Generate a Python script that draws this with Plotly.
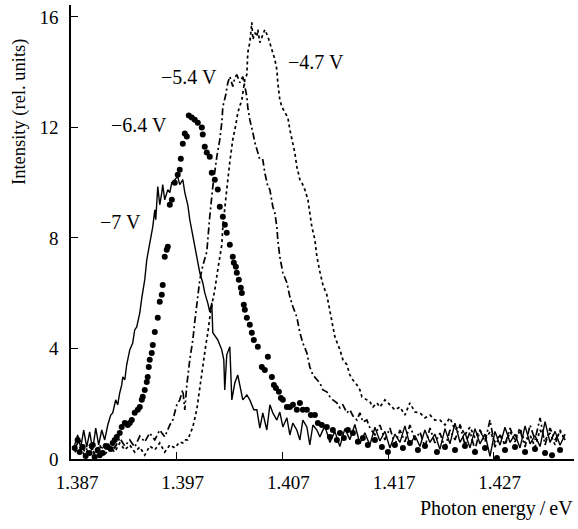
import plotly.graph_objects as go

# ---- data (photon energy in eV, intensity in rel. units) ----
e_7v = [1.38735, 1.38763, 1.38792, 1.3882, 1.38849, 1.38877, 1.38905, 1.38934, 1.38962, 1.38991,
        1.39019, 1.39048, 1.39076, 1.39095, 1.39123, 1.39142, 1.39161, 1.3918, 1.3919, 1.39209,
        1.39227, 1.39237, 1.39256, 1.39284, 1.39303, 1.39322, 1.39351, 1.3937, 1.39398, 1.39417,
        1.39436, 1.39445, 1.39464, 1.39474, 1.39493, 1.39502, 1.39521, 1.3954, 1.39559, 1.39568,
        1.39587, 1.39616, 1.39635, 1.39654, 1.39682, 1.3971, 1.39729, 1.39758, 1.39777, 1.39805,
        1.39824, 1.39852, 1.39871, 1.399, 1.39919, 1.39947, 1.39966, 1.39994, 1.40013, 1.40032,
        1.40042, 1.40089, 1.40127, 1.40146, 1.40155, 1.40174, 1.40203, 1.40222, 1.4025, 1.40278,
        1.40326, 1.40364, 1.40392, 1.4043, 1.40459, 1.40487, 1.40515, 1.40553, 1.40582, 1.4061,
        1.40648, 1.40676, 1.40705, 1.40743, 1.40771, 1.40799, 1.40837, 1.40866, 1.40894, 1.40932,
        1.4096, 1.40989, 1.41027, 1.41055, 1.41102, 1.4115, 1.41197, 1.41244, 1.41292, 1.41339,
        1.41386, 1.41434, 1.41481, 1.41528, 1.41576, 1.41623, 1.41671, 1.41718, 1.41765, 1.41813,
        1.4186, 1.41907, 1.41955, 1.42002, 1.42049, 1.42097, 1.42144, 1.42191, 1.42239, 1.42286,
        1.42334, 1.42381, 1.42428, 1.42476, 1.42523, 1.4257, 1.42618, 1.42665, 1.42712, 1.4276,
        1.42807, 1.42855, 1.42902, 1.42949, 1.42997, 1.43044, 1.43091, 1.43139, 1.43186, 1.43233,
        1.43281, 1.43328, 1.43376]
i_7v = [0.51, 0.87, 0.40, 1.05, 0.43, 0.98, 0.33, 1.12, 0.51, 1.05,
        0.69, 1.23, 1.59, 1.67, 2.14, 1.96, 2.39, 2.68, 2.97, 2.86,
        3.41, 3.59, 3.95, 4.20, 4.67, 4.78, 5.29, 5.83, 6.49, 7.21,
        7.57, 7.83, 8.12, 8.41, 9.02, 8.66, 9.86, 9.20, 9.64, 9.93,
        9.38, 9.75, 9.64, 10.00, 10.11, 10.22, 9.93, 10.11, 9.64, 9.20,
        8.66, 8.12, 7.68, 7.14, 6.74, 6.38, 6.01, 5.65, 5.33, 5.65,
        4.57, 4.31, 3.95, 3.59, 2.50, 3.77, 4.06, 2.14, 2.75, 3.04,
        2.14, 2.32, 2.14, 1.78, 1.78, 1.12, 1.67, 1.05, 1.96, 1.67,
        1.41, 1.70, 1.16, 1.49, 0.87, 1.30, 1.05, 0.69, 1.41, 1.16,
        0.51, 1.23, 1.05, 0.80, 1.20, 0.60, 1.00, 0.45, 1.10, 0.70,
        1.25, 0.55, 0.95, 0.50, 1.15, 0.65, 1.00, 0.40, 0.90, 0.60,
        1.20, 0.50, 0.85, 0.45, 1.05, 0.60, 0.90, 0.35, 1.10, 0.55,
        1.30, 0.60, 0.95, 0.40, 1.10, 0.55, 0.90, 0.10, 1.00, 0.50,
        1.15, 0.60, 0.90, 0.40, 1.20, 0.55, 0.85, 0.45, 1.35, 0.60,
        1.00, 0.50, 0.90]

e_64v = [1.38735, 1.38763, 1.38782, 1.38811, 1.38839, 1.38877, 1.38906, 1.38924, 1.38953, 1.38972,
         1.39, 1.39029, 1.39048, 1.39076, 1.39095, 1.39114, 1.39133, 1.39161, 1.3918, 1.39209,
         1.39237, 1.39256, 1.39275, 1.39303, 1.39332, 1.39351, 1.3937, 1.39379, 1.39398, 1.39417,
         1.39426, 1.39436, 1.39445, 1.39464, 1.39474, 1.39493, 1.39521, 1.3954, 1.39559, 1.39568,
         1.39587, 1.39606, 1.39616, 1.39635, 1.39654, 1.39682, 1.3971, 1.39729, 1.39739, 1.39758,
         1.39777, 1.39796, 1.39815, 1.39843, 1.39871, 1.399, 1.39938, 1.39947, 1.39966, 1.39985,
         1.40013, 1.40032, 1.40061, 1.40089, 1.40108, 1.40137, 1.40156, 1.40174, 1.40203, 1.40231,
         1.40241, 1.4026, 1.40269, 1.40288, 1.40307, 1.40317, 1.40335, 1.40345, 1.40364, 1.40392,
         1.40411, 1.4043, 1.40468, 1.40506, 1.40534, 1.40563, 1.40601, 1.4062, 1.40639, 1.40667,
         1.40686, 1.40705, 1.40743, 1.40771, 1.408, 1.40837, 1.40866, 1.40894, 1.40932, 1.4097,
         1.41008, 1.41036, 1.41074, 1.41121, 1.4115, 1.41178, 1.41216, 1.41245, 1.41282, 1.4132,
         1.41368, 1.41415, 1.41462, 1.41509, 1.41576, 1.41642, 1.41699, 1.41765, 1.41841, 1.41907,
         1.41983, 1.4205, 1.42163, 1.42239, 1.42334, 1.42428, 1.42523, 1.42618, 1.42731, 1.42807,
         1.42902, 1.42997, 1.43091, 1.43186, 1.43252, 1.43328]
i_64v = [0.40, 0.69, 0.25, 0.43, 0.11, 0.22, 0.51, 0.07, 0.33, 0.14,
         0.22, 0.47, 0.43, 0.36, 0.58, 0.69, 0.80, 0.94, 1.16, 1.30,
         1.23, 1.30, 1.41, 1.67, 1.78, 1.88, 2.14, 2.25, 2.50, 2.79,
         2.97, 3.33, 3.59, 3.84, 4.13, 4.60, 5.11, 5.69, 5.94, 6.30,
         7.32, 7.57, 7.68, 9.20, 9.38, 10.00, 10.29, 10.47, 10.87, 11.41,
         11.78, 11.67, 12.43, 12.36, 12.28, 12.17, 12.00, 11.74, 11.30, 11.09,
         10.94, 10.36, 10.11, 9.75, 9.13, 8.77, 8.48, 8.19, 7.75, 7.32,
         7.10, 6.96, 6.74, 6.49, 6.20, 6.01, 5.58, 5.40, 5.11, 4.86,
         4.57, 4.31, 4.06, 3.33, 3.22, 3.70, 2.97, 2.68, 2.57, 2.43,
         2.21, 2.14, 1.88, 1.88, 1.96, 1.78, 2.03, 1.78, 1.78, 1.59,
         1.59, 1.30, 1.23, 1.16, 0.80, 1.05, 0.69, 0.94, 0.76, 1.05,
         0.94, 0.62, 0.76, 0.51, 0.69, 0.43, 0.25, 0.51, 0.40, 0.58,
         0.33, 0.47, 0.25, 0.43, 0.33, 0.47, 0.25, 0.40, 0.04, 0.33,
         0.43, 0.25, 0.36, 0.22, 0.14, 0.33]

e_54v = [1.38735, 1.38782, 1.3883, 1.38877, 1.38924, 1.38972, 1.39019, 1.39066, 1.39114, 1.39161,
         1.39209, 1.39256, 1.39303, 1.39351, 1.39398, 1.39445, 1.39493, 1.3954, 1.39587, 1.39635,
         1.39663, 1.39701, 1.39729, 1.39758, 1.39777, 1.39796, 1.39824, 1.39853, 1.39871, 1.3989,
         1.39919, 1.39947, 1.39985, 1.40013, 1.40042, 1.4008, 1.40108, 1.40127, 1.40137, 1.40165,
         1.40184, 1.40203, 1.40231, 1.4025, 1.40269, 1.40298, 1.40326, 1.40345, 1.40364, 1.40373,
         1.40392, 1.40421, 1.4044, 1.40468, 1.40487, 1.40515, 1.40534, 1.40563, 1.40582, 1.4061,
         1.40629, 1.40648, 1.40657, 1.40676, 1.40705, 1.40743, 1.40771, 1.408, 1.40837, 1.40866,
         1.40894, 1.40932, 1.4096, 1.40989, 1.41027, 1.41055, 1.41084, 1.41121, 1.4115, 1.41178,
         1.41216, 1.41245, 1.41273, 1.41311, 1.41339, 1.41368, 1.41406, 1.41434, 1.41462, 1.415,
         1.41529, 1.41576, 1.41623, 1.41671, 1.41718, 1.41765, 1.41813, 1.4186, 1.41907, 1.41955,
         1.42002, 1.4205, 1.42097, 1.42144, 1.42192, 1.42239, 1.42286, 1.42334, 1.42381, 1.42428,
         1.42476, 1.42523, 1.4257, 1.42618, 1.42665, 1.42712, 1.4276, 1.42807, 1.42855, 1.42902,
         1.42949, 1.42997, 1.43044, 1.43091, 1.43139, 1.43186, 1.43233, 1.43281, 1.43328, 1.43376]
i_54v = [0.40, 0.69, 0.25, 0.51, 0.14, 0.47, 0.33, 0.62, 0.40, 0.76,
         0.47, 0.69, 0.43, 0.83, 0.62, 0.94, 0.69, 1.05, 0.80, 1.23,
         1.41, 1.96, 2.14, 2.50, 1.78, 2.68, 3.59, 4.31, 4.96, 5.58,
         6.49, 6.99, 7.50, 8.77, 9.86, 10.94, 11.56, 12.17, 12.75, 13.19,
         13.62, 13.84, 13.48, 13.80, 13.91, 13.62, 13.84, 13.48, 13.12, 12.72,
         12.28, 11.81, 11.45, 11.09, 10.83, 10.83, 10.36, 9.86, 9.75, 9.13,
         8.91, 8.41, 7.93, 7.32, 6.74, 6.38, 5.87, 5.51, 5.14, 4.57,
         4.20, 3.84, 3.33, 3.04, 2.86, 2.75, 2.50, 2.43, 2.25, 2.14,
         2.03, 1.85, 1.96, 1.67, 1.78, 1.56, 1.41, 1.67, 1.34, 1.41,
         1.12, 0.87, 1.23, 0.69, 1.12, 0.51, 1.05, 0.62, 1.23, 0.69,
         0.98, 0.43, 1.12, 0.58, 0.94, 0.40, 1.05, 0.69, 1.23, 0.51,
         0.98, 0.33, 1.05, 0.62, 1.41, 0.43, 0.87, 0.51, 1.12, 0.62,
         1.05, 0.43, 1.23, 0.69, 1.49, 0.51, 1.12, 0.69, 0.98, 0.69]

e_47v = [1.38735, 1.38782, 1.3883, 1.38877, 1.38924, 1.38972, 1.39019, 1.39066, 1.39114, 1.39161,
         1.39209, 1.39256, 1.39303, 1.39351, 1.39398, 1.39445, 1.39493, 1.3954, 1.39587, 1.39635,
         1.39682, 1.39729, 1.39758, 1.39777, 1.39805, 1.39824, 1.39853, 1.3989, 1.39919, 1.39947,
         1.39976, 1.39995, 1.40013, 1.40042, 1.40061, 1.40089, 1.40108, 1.40127, 1.40137, 1.40156,
         1.40174, 1.40203, 1.40231, 1.4026, 1.40279, 1.40317, 1.40345, 1.40364, 1.40373, 1.40392,
         1.40411, 1.40421, 1.4044, 1.40459, 1.40468, 1.40487, 1.40506, 1.40534, 1.40563, 1.40582,
         1.40601, 1.40629, 1.40648, 1.40657, 1.40676, 1.40695, 1.40724, 1.40752, 1.40771, 1.408,
         1.40818, 1.40837, 1.40866, 1.40885, 1.40913, 1.40942, 1.4096, 1.40979, 1.41008, 1.41027,
         1.41055, 1.41084, 1.41121, 1.4115, 1.41178, 1.41197, 1.41245, 1.41273, 1.41311, 1.41339,
         1.41368, 1.41406, 1.41434, 1.41453, 1.415, 1.41529, 1.41557, 1.41595, 1.41623, 1.41671,
         1.41718, 1.41765, 1.41813, 1.4186, 1.41907, 1.41955, 1.42002, 1.4205, 1.42097, 1.42144,
         1.42192, 1.42239, 1.42286, 1.42334, 1.42381, 1.42428, 1.42476, 1.42523, 1.4257, 1.42618,
         1.42665, 1.42712, 1.4276, 1.42807, 1.42855, 1.42902, 1.42949, 1.42997, 1.43044, 1.43091,
         1.43139, 1.43186, 1.43233, 1.43281, 1.43328, 1.43376]
i_47v = [0.25, 0.40, 0.14, 0.43, 0.22, 0.51, 0.14, 0.43, 0.25, 0.58,
         0.33, 0.51, 0.25, 0.43, 0.14, 0.47, 0.33, 0.58, 0.25, 0.51,
         0.40, 0.62, 0.58, 0.69, 0.69, 0.87, 1.16, 1.78, 2.61, 3.33,
         4.13, 4.57, 5.11, 5.76, 6.12, 6.85, 7.39, 7.75, 8.41, 9.02,
         9.75, 10.76, 11.56, 12.10, 12.54, 13.01, 13.73, 13.91, 14.71, 15.07,
         15.80, 15.18, 15.43, 15.29, 15.54, 15.07, 15.29, 15.54, 15.29, 15.07,
         14.82, 14.46, 14.09, 13.62, 13.01, 12.75, 12.54, 12.36, 11.92, 11.45,
         11.09, 10.58, 10.11, 10.00, 9.75, 9.38, 8.95, 8.41, 7.93, 7.32,
         6.78, 6.30, 5.94, 5.40, 4.78, 4.42, 3.95, 3.59, 3.41, 3.04,
         2.86, 2.68, 2.50, 2.25, 2.14, 2.07, 1.88, 2.03, 1.88, 2.14,
         1.96, 1.78, 1.88, 1.59, 2.03, 1.70, 1.67, 1.49, 1.59, 1.41,
         1.41, 1.23, 1.49, 1.05, 1.23, 0.87, 1.16, 0.76, 1.05, 0.69,
         0.98, 0.62, 0.87, 0.51, 0.98, 0.69, 1.12, 0.58, 0.87, 0.43,
         1.05, 0.69, 0.94, 0.51, 1.05, 0.69]

x_ticks = [1.387, 1.397, 1.407, 1.417, 1.427]
x_ticklabels = ["1.387", "1.397", "1.407", "1.417", "1.427"]
y_ticks = [0, 4, 8, 12, 16]

curve_labels = ["\u22127 V", "\u22126.4 V", "\u22125.4 V", "\u22124.7 V"]
label_x = [1.39166, 1.39346, 1.39819, 1.41017]
label_y = [8.59, 12.07, 13.84, 14.35]

FONT = "Liberation Serif, Times New Roman, serif"

fig = go.Figure()
fig.add_trace(go.Scatter(x=e_7v, y=i_7v, mode="lines",
                         line=dict(color="black", width=1.4), name=curve_labels[0]))
fig.add_trace(go.Scatter(x=e_54v, y=i_54v, mode="lines",
                         line=dict(color="black", width=1.7, dash="7px,3px,2px,3px"),
                         name=curve_labels[2]))
fig.add_trace(go.Scatter(x=e_47v, y=i_47v, mode="lines",
                         line=dict(color="black", width=1.7, dash="3px,3px"),
                         name=curve_labels[3]))
fig.add_trace(go.Scatter(x=e_64v, y=i_64v, mode="markers",
                         marker=dict(color="black", size=6), name=curve_labels[1]))

for t, lx, ly in zip(curve_labels, label_x, label_y):
    fig.add_annotation(x=lx, y=ly, xref="x", yref="y", text=t, showarrow=False,
                       font=dict(family=FONT, size=20, color="black"),
                       xanchor="center", yanchor="middle")

W, H = 578, 529
L, R, T, B = 71, 4, 5, 70
pw, ph = W - L - R, H - T - B

fig.add_annotation(x=(19 - L) / pw, y=(H - B - 112) / ph, xref="paper", yref="paper",
                   text="Intensity (rel. units)", showarrow=False, textangle=-90,
                   xanchor="center", yanchor="middle",
                   font=dict(family=FONT, size=18.5, color="black"))
fig.add_annotation(x=(575 - L) / pw, y=(H - B - 508) / ph, xref="paper", yref="paper",
                   text="Photon energy\u2009/\u2009eV", showarrow=False,
                   xanchor="right", yanchor="middle",
                   font=dict(family=FONT, size=20, color="black"))

fig.update_layout(
    width=W, height=H, margin=dict(l=L, r=R, t=T, b=B),
    paper_bgcolor="white", plot_bgcolor="white", showlegend=False,
    font=dict(family=FONT, size=19, color="black"),
    xaxis=dict(range=[1.387, 1.4346], tickvals=x_ticks, ticktext=x_ticklabels,
               ticks="inside", ticklen=7, tickwidth=1.3, tickcolor="black",
               showline=True, linecolor="black", linewidth=1.5, showgrid=False,
               zeroline=False, mirror=False, ticklabelstandoff=5, ticklabelshift=6,
               tickfont=dict(family=FONT, size=19)),
    yaxis=dict(range=[0, 16.43], tickvals=y_ticks, ticks="inside", ticklen=7,
               tickwidth=1.3, tickcolor="black", showline=True, linecolor="black",
               linewidth=1.5, showgrid=False, zeroline=False, mirror=False,
               ticklabelstandoff=7, tickfont=dict(family=FONT, size=19)),
)

fig.write_html("out.html")
